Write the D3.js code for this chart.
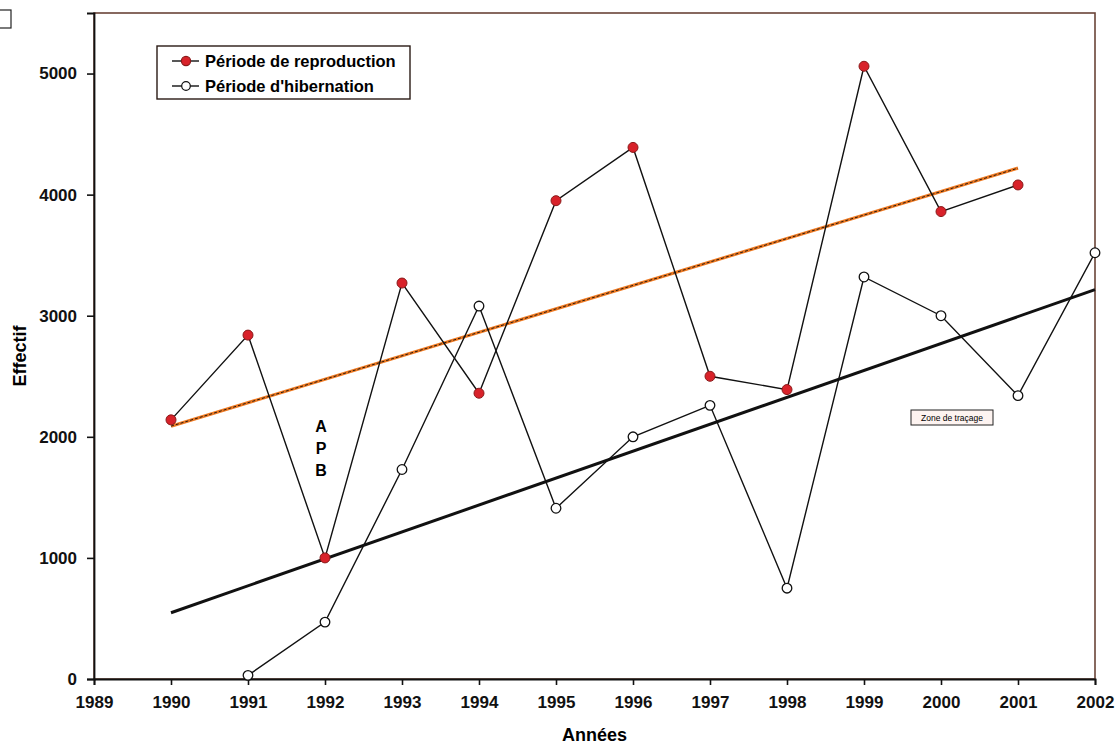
<!DOCTYPE html>
<html>
<head>
<meta charset="utf-8">
<script src="https://cdn.jsdelivr.net/npm/d3@7"></script>
<style>
  body { margin: 0; background: #fff; }
  text { font-family: "Liberation Sans", Arial, sans-serif; }
</style>
</head>
<body>
<svg id="chart" width="1119" height="744"></svg>
<script>
// data
var reproYears = [1990,1991,1992,1993,1994,1995,1996,1997,1998,1999,2000,2001];
var reproValues = [2140,2840,1000,3270,2360,3950,4390,2500,2390,5060,3860,4080];
var hiberYears = [1991,1992,1993,1994,1995,1996,1997,1998,1999,2000,2001,2002];
var hiberValues = [30,470,1730,3080,1410,2000,2260,750,3320,3000,2340,3520];
var xTicks = [1989,1990,1991,1992,1993,1994,1995,1996,1997,1998,1999,2000,2001,2002];
var yTicks = [0,1000,2000,3000,4000,5000];
var legendLabels = ["Période de reproduction", "Période d'hibernation"];
var reproTrendSpan = [1990, 2001];
var hiberTrendSpan = [1990, 2002];

var plotL = 94, plotR = 1095, plotT = 13, plotB = 679;

var svg = d3.select('#chart');
var x = d3.scaleLinear().domain([1989, 2002]).range([plotL, plotR]);
var y = d3.scaleLinear().domain([0, 5500]).range([plotB, plotT]);

// least squares trend
function fit(xs, ys){
  var n = xs.length, mx = d3.mean(xs), my = d3.mean(ys);
  var sxy = 0, sxx = 0;
  for (var i = 0; i < n; i++){ sxy += (xs[i]-mx)*(ys[i]-my); sxx += (xs[i]-mx)*(xs[i]-mx); }
  var b = sxy/sxx;
  return function(v){ return my + b*(v-mx); };
}

// plot frame
svg.append('rect').attr('x', plotL).attr('y', plotT)
   .attr('width', plotR-plotL).attr('height', plotB-plotT)
   .attr('fill', 'none').attr('stroke', '#6a4438').attr('stroke-width', 1.6);

// axes
var xAxis = svg.append('g').attr('transform', 'translate(0,'+plotB+')')
   .call(d3.axisBottom(x).tickValues(xTicks).tickFormat(d3.format('d')).tickSizeOuter(0).tickSize(6).tickPadding(11));
var yAxis = svg.append('g').attr('transform', 'translate('+plotL+',0)')
   .call(d3.axisLeft(y).tickValues(yTicks).tickSizeOuter(0).tickSize(7).tickPadding(10).tickFormat(d3.format('d')));
[xAxis, yAxis].forEach(function(g){
  g.select('.domain').attr('stroke', '#111').attr('stroke-width', 1.8);
  g.selectAll('.tick line').attr('stroke', '#111').attr('stroke-width', 1.6);
  g.selectAll('.tick text').attr('font-size', 17).attr('font-weight', 'bold')
   .attr('fill', '#111').style('font-family', '"Liberation Sans", Arial, sans-serif');
});

svg.append('text').attr('x', (plotL+plotR)/2).attr('y', 741).attr('text-anchor', 'middle')
   .attr('font-size', 18).attr('font-weight', 'bold').text('Années');
svg.append('text').attr('transform', 'translate(26,356) rotate(-90)').attr('text-anchor', 'middle')
   .attr('font-size', 18).attr('font-weight', 'bold').text('Effectif');

// trend lines
var rf = fit(reproYears, reproValues);
var hf = fit(hiberYears, hiberValues);
var line = d3.line().x(function(d){ return x(d[0]); }).y(function(d){ return y(d[1]); });
var rTrend = reproTrendSpan.map(function(v){ return [v, rf(v)]; });
var hTrend = hiberTrendSpan.map(function(v){ return [v, hf(v)]; });
svg.append('path').attr('d', line(rTrend)).attr('stroke', '#ef7a22').attr('stroke-width', 3.2).attr('fill', 'none');
svg.append('path').attr('d', line(rTrend)).attr('stroke', '#2a1a10').attr('stroke-width', 1).attr('stroke-dasharray', '3,2').attr('fill', 'none');
svg.append('path').attr('d', line(hTrend)).attr('stroke', '#111').attr('stroke-width', 3).attr('fill', 'none');

// series lines
var repro = reproYears.map(function(d, i){ return [d, reproValues[i]]; });
var hiber = hiberYears.map(function(d, i){ return [d, hiberValues[i]]; });
svg.append('path').attr('d', line(hiber)).attr('stroke', '#111').attr('stroke-width', 1.4).attr('fill', 'none');
svg.append('path').attr('d', line(repro)).attr('stroke', '#111').attr('stroke-width', 1.4).attr('fill', 'none');

svg.selectAll('circle.hib').data(hiber).enter().append('circle').attr('class', 'hib')
   .attr('cx', function(d){ return x(d[0]); }).attr('cy', function(d){ return y(d[1]); })
   .attr('r', 4.8).attr('fill', '#fff').attr('stroke', '#111').attr('stroke-width', 1.3);
svg.selectAll('circle.rep').data(repro).enter().append('circle').attr('class', 'rep')
   .attr('cx', function(d){ return x(d[0]); }).attr('cy', function(d){ return y(d[1]); })
   .attr('r', 5).attr('fill', '#d8222a').attr('stroke', '#8a1a1a').attr('stroke-width', 1);

// legend
var lg = svg.append('g').attr('transform', 'translate(157,46)');
lg.append('rect').attr('width', 253).attr('height', 53).attr('fill', '#fff')
  .attr('stroke', '#2a1a14').attr('stroke-width', 1.4);
legendLabels.forEach(function(lab, i){
  var yy = 15 + i*25;
  lg.append('line').attr('x1', 15).attr('x2', 42).attr('y1', yy).attr('y2', yy).attr('stroke', '#111').attr('stroke-width', 1.4);
  lg.append('circle').attr('cx', 29).attr('cy', yy).attr('r', i == 0 ? 4.6 : 4.3)
    .attr('fill', i == 0 ? '#d8222a' : '#fff').attr('stroke', i == 0 ? '#8a1a1a' : '#111').attr('stroke-width', 1.2);
  lg.append('text').attr('x', 48).attr('y', yy+6).attr('font-size', 16.5).attr('font-weight', 'bold').text(lab);
});

// annotations
['A','P','B'].forEach(function(c, i){
  svg.append('text').attr('x', 321).attr('y', 432 + i*22).attr('text-anchor', 'middle')
     .attr('font-size', 16).attr('font-weight', 'bold').text(c);
});
svg.append('rect').attr('x', 911).attr('y', 410).attr('width', 82).attr('height', 15)
   .attr('fill', '#fdf3f0').attr('stroke', '#222').attr('stroke-width', 1);
svg.append('text').attr('x', 952).attr('y', 421).attr('text-anchor', 'middle')
   .attr('font-size', 8.5).text('Zone de traçage');

// corner fragment
svg.append('rect').attr('x', -2).attr('y', 10).attr('width', 13).attr('height', 18)
   .attr('fill', 'none').attr('stroke', '#222').attr('stroke-width', 1.2);
</script>
</body>
</html>
